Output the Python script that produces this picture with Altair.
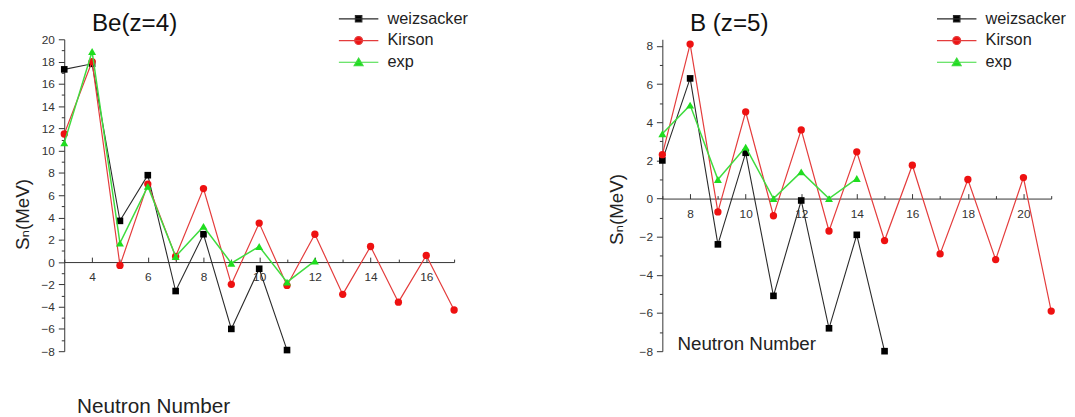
import altair as alt
import pandas as pd

series = ["weizsacker", "Kirson", "exp"]

# Be (z=4)
be_n_w = [3, 4, 5, 6, 7, 8, 9, 10, 11]
be_w = [17.3, 17.8, 3.7, 7.8, -2.6, 2.5, -6.0, -0.6, -7.9]
be_n_k = [3, 4, 5, 6, 7, 8, 9, 10, 11, 12, 13, 14, 15, 16, 17]
be_k = [11.5, 18.0, -0.3, 7.0, 0.5, 6.6, -2.0, 3.5, -2.1, 2.5, -2.9, 1.4, -3.6, 0.6, -4.3]
be_n_e = [3, 4, 5, 6, 7, 8, 9, 10, 11, 12]
be_e = [10.7, 18.9, 1.7, 6.8, 0.5, 3.2, -0.1, 1.4, -1.8, 0.1]

# B (z=5)
b_n_w = [7, 8, 9, 10, 11, 12, 13, 14, 15]
b_w = [2.0, 6.3, -2.4, 2.4, -5.1, -0.1, -6.8, -1.9, -8.0]
b_n_k = [7, 8, 9, 10, 11, 12, 13, 14, 15, 16, 17, 18, 19, 20, 21]
b_k = [2.3, 8.1, -0.7, 4.55, -0.9, 3.6, -1.7, 2.45, -2.2, 1.75, -2.9, 1.0, -3.2, 1.1, -5.9]
b_n_e = [7, 8, 9, 10, 11, 12, 13, 14]
b_e = [3.4, 4.9, 1.0, 2.7, 0.0, 1.4, 0.0, 1.05]

line_colors = ["#2a2a2a", "#e43c3c", "#3fdc3f"]
fill_colors = ["#000000", "#ee1111", "#1fdd1f"]
line_widths = [1.1, 1.2, 1.5]
marker_shapes = ["square", "circle", "triangle-up"]
marker_sizes = [45, 55, 65]
legend_paths = [
    "M-4,0H4M-0.65,-0.65H0.65V0.65H-0.65Z",
    "M-4,0H4M-0.8,0A0.8,0.8,0,1,0,0.8,0A0.8,0.8,0,1,0,-0.8,0Z",
    "M-4,0H4M0,-0.85L0.9,0.7H-0.9Z",
]

FONT = "Liberation Sans"
AX = "#333333"


def make_df(ns, vals):
    rows = []
    for name, n_list, v_list in zip(series, ns, vals):
        for n, v in zip(n_list, v_list):
            rows.append({"n": n, "s": v, "series": name})
    return pd.DataFrame(rows)


def panel(title, df, xdom, ydom, width, height, title_dx, ytx, yty, xtx, xty, xtsize):
    y0 = height * ydom[1] / (ydom[1] - ydom[0])
    xs = alt.Scale(domain=xdom, nice=False, zero=False)
    ys = alt.Scale(domain=ydom, nice=False, zero=False)
    x_even = [v for v in range(xdom[0], xdom[1] + 1) if v % 2 == 0]
    x_odd = [v for v in range(xdom[0], xdom[1] + 1) if v % 2 != 0]
    y_even = [v for v in range(int(ydom[0]), int(ydom[1]) + 1) if v % 2 == 0]
    y_odd = [v for v in range(int(ydom[0]), int(ydom[1]) + 1) if v % 2 != 0]

    # x axis: labels + domain line at y = 0 (no ticks)
    x_main = alt.Axis(
        orient="bottom", offset=y0 - height, values=x_even,
        grid=False, ticks=False, labelPadding=10, labelFontSize=12,
        labelColor=AX, labelFont=FONT, domainColor=AX, domainWidth=1,
        title="Neutron Number", titleX=xtx, titleY=xty, titleAlign="center",
        titleAnchor="start", titleBaseline="alphabetic", titleFontSize=xtsize,
        titleFontWeight="normal", titleFont=FONT, titleColor="#222",
    )
    # x ticks pointing up from the zero line
    x_tick_major = alt.Axis(
        orient="top", offset=-y0, values=x_even, labels=False, domain=False,
        grid=False, title=None, tickColor=AX, tickWidth=1, tickSize=5,
    )
    x_tick_minor = alt.Axis(
        orient="top", offset=-y0, values=x_odd, labels=False, domain=False,
        grid=False, title=None, tickColor=AX, tickWidth=1, tickSize=3,
    )
    y_main = alt.Axis(
        orient="left", values=y_even, grid=False, labelPadding=4,
        labelFontSize=12, labelColor=AX, labelFont=FONT, domainColor=AX,
        tickColor=AX, tickSize=6,
        title="S\u2099(MeV)", titleAngle=270, titleX=ytx, titleY=yty,
        titleAlign="center", titleAnchor="start", titleBaseline="alphabetic",
        titleFontSize=19, titleFontWeight="normal",
        titleFont="Liberation Sans, DejaVu Sans", titleColor="#222",
    )
    y_minor = alt.Axis(
        orient="left", values=y_odd, grid=False, labels=False, domain=False,
        tickColor=AX, tickSize=3, title=None,
    )

    x_axes = [x_main, x_tick_major, x_tick_minor, None, None, None]
    y_axes = [y_main, y_minor, None, None, None, None]

    layers = []
    k = 0
    for i, name in enumerate(series):
        base = alt.Chart(df).transform_filter(alt.datum.series == name)
        line = base.mark_line(color=line_colors[i], strokeWidth=line_widths[i]).encode(
            x=alt.X("n:Q", scale=xs, axis=x_axes[k]),
            y=alt.Y("s:Q", scale=ys, axis=y_axes[k]),
        )
        k += 1
        pts = base.mark_point(
            shape=marker_shapes[i], filled=True, color=fill_colors[i],
            size=marker_sizes[i], opacity=1,
        ).encode(
            x=alt.X("n:Q", scale=xs, axis=x_axes[k]),
            y=alt.Y("s:Q", scale=ys, axis=y_axes[k]),
        )
        k += 1
        layers += [line, pts]

    leg = alt.Legend(
        orient="none", legendX=290, legendY=-29, title=None, padding=0,
        symbolSize=100, symbolStrokeWidth=1.2, symbolOpacity=1,
        labelFont=FONT, labelFontSize=16.5, labelColor="#222",
        labelOffset=21, rowPadding=5,
    )
    legend_df = pd.DataFrame({"series": series})
    legend_layer = alt.Chart(legend_df).transform_filter("false").mark_point(
        filled=True, opacity=1
    ).encode(
        fill=alt.Fill("series:N", scale=alt.Scale(domain=series, range=fill_colors), legend=leg),
        stroke=alt.Stroke("series:N", scale=alt.Scale(domain=series, range=line_colors), legend=leg),
        shape=alt.Shape("series:N", scale=alt.Scale(domain=series, range=legend_paths), legend=leg),
    )
    layers.append(legend_layer)

    return alt.layer(*layers).resolve_axis(x="independent", y="independent").properties(
        width=width, height=height,
        title=alt.TitleParams(
            title, anchor="start", frame="group", dx=title_dx, dy=26, offset=0,
            fontSize=24.5, fontWeight="normal", font=FONT, color="#111",
        ),
    )


df_be = make_df([be_n_w, be_n_k, be_n_e], [be_w, be_k, be_e])
df_b = make_df([b_n_w, b_n_k, b_n_e], [b_w, b_k, b_e])

left = panel("Be(z=4)", df_be, [3, 17], [-8, 20], 395, 316, 28, -36, 177, 90, 152, 21)
right = panel("B (z=5)", df_b, [7, 21], [-8, 8.35], 394, 316, 28, -40, 172, 85, 153, 19)

chart = alt.hconcat(left, right, spacing=141).resolve_scale(
    fill="independent", stroke="independent", shape="independent",
    x="independent", y="independent",
).resolve_legend(
    fill="independent", stroke="independent", shape="independent",
).properties(
    padding={"left": 6, "top": 0, "right": 0, "bottom": 0},
).configure(font=FONT, background="white").configure_view(strokeWidth=0)

chart.save("out.html", embed_options={"renderer": "svg", "actions": False})
